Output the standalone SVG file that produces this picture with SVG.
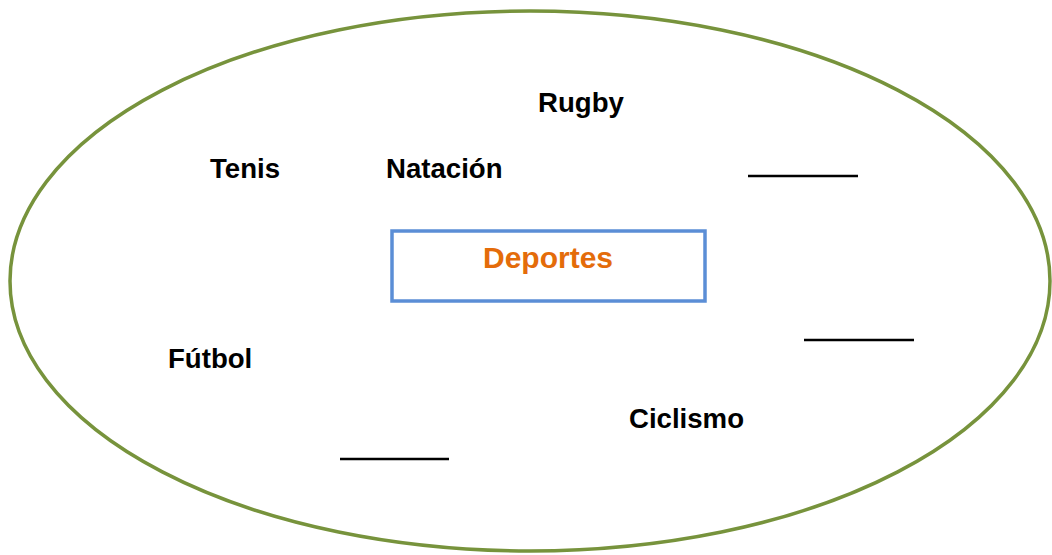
<svg xmlns="http://www.w3.org/2000/svg" width="1052" height="555" viewBox="0 0 1052 555">
<style>
.lbl{font-family:"Liberation Sans",Arial,sans-serif;font-weight:bold;font-size:27.6px;fill:#000}
.blank{stroke:#000;stroke-width:2.5}
</style>
<rect width="1052" height="555" fill="#fff"/>
<g id="set">
<ellipse cx="530" cy="281" rx="520" ry="270" fill="none" stroke="#77933C" stroke-width="3.5"/>
</g>
<g id="center">
<rect x="392" y="231" width="313" height="70" fill="#fff" stroke="#5B8ED6" stroke-width="3.5"/>
<text x="548" y="268" text-anchor="middle" font-family="Liberation Sans, Arial, sans-serif" font-weight="bold" font-size="30" fill="#E46C0A">Deportes</text>
</g>
<g id="rugby"><text class="lbl" x="538" y="112">Rugby</text></g>
<g id="tenis"><text class="lbl" x="210" y="178">Tenis</text></g>
<g id="natacion"><text class="lbl" x="386" y="178">Natación</text></g>
<g id="futbol"><text class="lbl" x="168" y="368">Fútbol</text></g>
<g id="ciclismo"><text class="lbl" x="629" y="428">Ciclismo</text></g>
<g id="blanks">
<line class="blank" x1="748" y1="176" x2="858" y2="176"/>
<line class="blank" x1="804" y1="340" x2="914" y2="340"/>
<line class="blank" x1="340" y1="459" x2="449" y2="459"/>
</g>
</svg>
